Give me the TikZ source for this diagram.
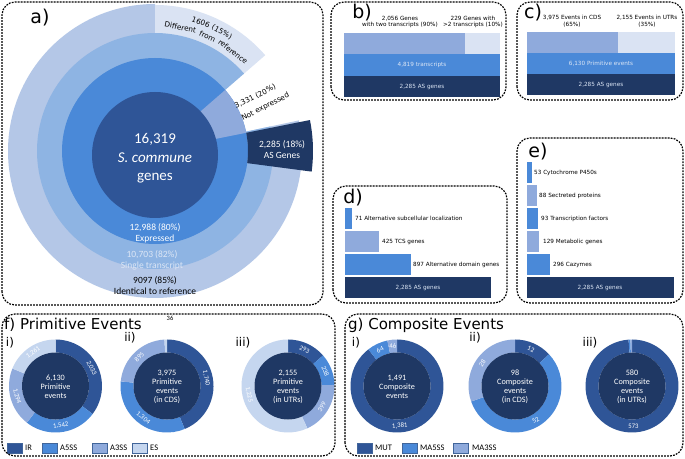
\documentclass[tikz,border=0pt]{standalone}
\usepackage{fontspec}
\setmainfont{Carlito}
\newfontfamily\dv{DejaVu Sans}
\usetikzlibrary{calc}
\definecolor{cNavy}{HTML}{1F3864}
\definecolor{cDark}{HTML}{2F5597}
\definecolor{cMid}{HTML}{4A89D8}
\definecolor{cGrey}{HTML}{8FAADC}
\definecolor{cRthree}{HTML}{8EB4E3}
\definecolor{cOut}{HTML}{B4C7E7}
\definecolor{cLight}{HTML}{DAE3F3}
\definecolor{cES}{HTML}{C5D6EF}
\definecolor{cLeg}{HTML}{41659A}
\definecolor{cPale}{HTML}{DCE6F5}
\newcommand\annsec[6]{\fill[#6,shift={#1}] (#4:#3) arc[start angle=#4,end angle=#5,radius=#3] -- (#5:#2) arc[start angle=#5,end angle=#4,radius=#2] -- cycle;}
\newcommand\piesec[5]{\fill[#5,shift={#1}] (0,0) -- (#3:#2) arc[start angle=#3,end angle=#4,radius=#2] -- cycle;}
\begin{document}
\begin{tikzpicture}[x=1pt,y=1pt,
 panel/.style={draw=black, line width=1.2pt, dash pattern=on 1.8pt off 1.2pt, rounded corners=13pt},
 plab/.style={font=\dv\fontsize{19}{21}\selectfont, inner sep=0},
 ttl/.style={font=\dv\fontsize{15}{17}\selectfont, inner sep=0, anchor=west},
 sublab/.style={font=\dv\fontsize{12}{14}\selectfont, inner sep=0},
 small/.style={font=\dv\fontsize{5.7}{6.6}\selectfont, inner sep=0, align=center},
 barlab/.style={font=\dv\fontsize{5.7}{6.6}\selectfont, inner sep=0, anchor=west},
 inbar/.style={font=\dv\fontsize{5.7}{6.6}\selectfont, inner sep=0, text=cPale},
 ctext/.style={font=\fontsize{8.2}{9}\selectfont, align=center, text=white, inner sep=0},
 rl/.style={font=\fontsize{6.8}{8}\selectfont, text=white, inner sep=0},
 leg/.style={font=\fontsize{8.5}{9}\selectfont, inner sep=0, anchor=west},
 legbox/.style={line width=0.5pt, draw=cLeg},
 alab/.style={font=\fontsize{9.5}{11}\selectfont, align=center, inner sep=0},
 big/.style={font=\fontsize{15}{16}\selectfont, text=white, inner sep=0, anchor=base},
 arcw/.style={font=\dv\fontsize{7.3}{8}\selectfont, inner sep=0, anchor=base},
]
\useasboundingbox (0,0) rectangle (685,458);
\fill[white] (0,0) rectangle (685,458);

% ---------------- panel a
\piesec{(155,307)}{147}{90}{372}{cOut}
\annsec{(155,307)}{117}{146}{41}{90}{cLight}
\piesec{(155,307)}{118}{41}{372}{cRthree}
\fill[cMid] (155,307) circle[radius=93];
\piesec{(155,307)}{93}{11.3}{41}{cGrey}
\annsec{(155,307)}{93}{158}{-7.5}{11.3}{cNavy}
\fill[cDark] (155,303) circle[radius=63];

\node[plab] (alab) at (40,440) {a)};
\node[big] (a1) at (155,314.5) {16,319};
\node[big, font=\fontsize{15}{16}\selectfont\itshape] (a2) at (155,295) {S. commune};
\node[big] (a3) at (155,277) {genes};
\node[alab, text=white] (a4) at (155,224.5) {12,988 (80\%)\\Expressed};
\node[alab, text=cPale] (a5) at (152,198) {10,703 (82\%)\\Single transcript};
\node[alab] (a6) at (155,172) {9097 (85\%)\\Identical to reference};
\node[alab, text=white] (a7) at (282,308.5) {2,285 (18\%)\\AS Genes};
\node[anchor=west, rotate=27, inner sep=0, font=\dv\fontsize{7.3}{8}\selectfont] (a8) at (235,351) {3,331 (20\%)};
\node[anchor=west, rotate=27, inner sep=0, font=\dv\fontsize{7.3}{8}\selectfont] (a9) at (242,339) {Not expressed};
% curved labels, word by word
\node[arcw, rotate=-19.6] (a10) at ($(155,307)+(70.4:134)$) {1606};
\node[arcw, rotate=-29.4] (a11) at ($(155,307)+(60.6:134)$) {(15\%)};
\node[arcw, rotate=-11.6] (a12) at ($(155,307)+(78.4:123.5)$) {Different};
\node[arcw, rotate=-24.6] (a13) at ($(155,307)+(65.4:123.5)$) {from};
\node[arcw, rotate=-38.2] (a14) at ($(155,307)+(51.8:123.5)$) {reference};

% ---------------- panel b
\node[plab] (blab) at (362,445) {b)};
\node[small] (b1) at (400,436) {2,056 Genes\\with two transcripts (90\%)};
\node[small] (b2) at (473,436) {229 Genes with\\>2 transcripts (10\%)};
\fill[cGrey] (344,404) rectangle (465,425);
\fill[cLight] (465,404) rectangle (500,425);
\fill[cMid] (344,382) rectangle (500,404);
\fill[cNavy] (344,361) rectangle (500,382);
\node[inbar] (b3) at (422,393) {4,819 transcripts};
\node[inbar] (b4) at (422,371.5) {2,285 AS genes};

% ---------------- panel c
\node[plab] (clab) at (533,445) {c)};
\node[small] (c1) at (572,437) {3,975 Events in CDS\\(65\%)};
\node[small] (c2) at (647,437) {2,155 Events in UTRs\\(35\%)};
\fill[cGrey] (527,405) rectangle (618,426);
\fill[cLight] (618,405) rectangle (675,426);
\fill[cMid] (527,384) rectangle (675,405);
\fill[cNavy] (527,363) rectangle (675,384);
\node[inbar] (c3) at (601,394.5) {6,130 Primitive events};
\node[inbar] (c4) at (601,373.5) {2,285 AS genes};

% ---------------- panel d
\node[plab] (dlab) at (353,260) {d)};
\fill[cMid] (345,229) rectangle (352,250);
\node[barlab] (d1) at (355,239.5) {71 Alternative subcellular localization};
\fill[cGrey] (345,206) rectangle (379,227);
\node[barlab] (d2) at (382,216.5) {425 TCS genes};
\fill[cMid] (345,183) rectangle (411,204);
\node[barlab] (d3) at (413,193.5) {897 Alternative domain genes};
\fill[cNavy] (345,160) rectangle (491,181);
\node[inbar] (d4) at (418,170.5) {2,285 AS genes};

% ---------------- panel e
\node[plab] (elab) at (538,306) {e)};
\fill[cMid] (527,275) rectangle (532,296);
\node[barlab] (e1) at (534,285.5) {53 Cytochrome P450s};
\fill[cGrey] (527,252) rectangle (537,273);
\node[barlab] (e2) at (539,262.5) {88 Sectreted proteins};
\fill[cMid] (527,229) rectangle (538,250);
\node[barlab] (e3) at (541,239.5) {93 Transcription factors};
\fill[cGrey] (527,206) rectangle (539,227);
\node[barlab] (e4) at (543,216.5) {129 Metabolic genes};
\fill[cMid] (527,183) rectangle (550,204);
\node[barlab] (e5) at (553,193.5) {296 Cazymes};
\fill[cNavy] (527,160) rectangle (674,181);
\node[inbar] (e6) at (600,170.5) {2,285 AS genes};

% ---------------- panel f
\node[ttl] (ft) at (4,133) {f) Primitive Events};
\node[sublab] (fs1) at (10,115) {i)};
\node[sublab] (fs2) at (130,120) {ii)};
\node[sublab] (fs3) at (243,115) {iii)};
% f i
\annsec{(55.5,72)}{33.5}{46.5}{-37}{90}{cDark}
\annsec{(55.5,72)}{33.5}{46.5}{-128}{-37}{cMid}
\annsec{(55.5,72)}{33.5}{46.5}{-202}{-128}{cGrey}
\annsec{(55.5,72)}{33.5}{46.5}{-270}{-202}{cES}
\fill[cNavy] (55.5,72) circle[radius=33.5];
\node[ctext] (fi0) at (55.5,71.5) {6,130\\Primitive\\events};
\node[rl, rotate=-63.5] (fi1) at ($(55.5,72)+(26.5:40)$) {2,033};
\node[rl, rotate=7.5] (fi2) at ($(55.5,72)+(-82.5:40)$) {1,542};
\node[rl, rotate=-75] (fi3) at ($(55.5,72)+(-165:40)$) {1,294};
\node[rl, rotate=34] (fi4) at ($(55.5,72)+(-236:40)$) {1,261};
% f ii
\annsec{(167,72)}{33.5}{46.5}{-67.6}{90}{cDark}
\annsec{(167,72)}{33.5}{46.5}{-185.7}{-67.6}{cMid}
\annsec{(167,72)}{33.5}{46.5}{-266.8}{-185.7}{cGrey}
\annsec{(167,72)}{33.5}{46.5}{-270}{-266.8}{cES}
\fill[cNavy] (167,72) circle[radius=33.5];
\node[ctext] (fii0) at (167,71.5) {3,975\\Primitive\\events\\(in CDS)};
\node[rl, rotate=-78.8] (fii1) at ($(167,72)+(11.2:40)$) {1,740};
\node[rl, rotate=-36.65] (fii2) at ($(167,72)+(-126.65:40)$) {1,304};
\node[rl, rotate=43.75] (fii3) at ($(167,72)+(-226.25:40)$) {895};
\node[inner sep=0, font=\fontsize{6.5}{7}\selectfont] (fii4) at (170,139.5) {36};
% f iii
\annsec{(288,72)}{33.5}{46.5}{41.1}{90}{cDark}
\annsec{(288,72)}{33.5}{46.5}{1.3}{41.1}{cMid}
\annsec{(288,72)}{33.5}{46.5}{-65.4}{1.3}{cGrey}
\annsec{(288,72)}{33.5}{46.5}{-270}{-65.4}{cES}
\fill[cNavy] (288,72) circle[radius=33.5];
\node[ctext] (fiii0) at (288,71.5) {2,155\\Primitive\\events\\(in UTRs)};
\node[rl, rotate=-24.45] (fiii1) at ($(288,72)+(65.55:40)$) {293};
\node[rl, rotate=-68.8] (fiii2) at ($(288,72)+(21.2:40)$) {238};
\node[rl, rotate=57.95] (fiii3) at ($(288,72)+(-32.05:40)$) {399};
\node[rl, rotate=-77.7] (fiii4) at ($(288,72)+(-167.7:40)$) {1,225};
% f legend
\draw[legbox, fill=cDark] (7,5) rectangle (22,15);
\node[leg] (lf1) at (25,10) {IR};
\draw[legbox, fill=cMid] (42,5) rectangle (57,15);
\node[leg] (lf2) at (60,10) {A5SS};
\draw[legbox, fill=cGrey] (92,5) rectangle (107,15);
\node[leg] (lf3) at (110,10) {A3SS};
\draw[legbox, fill=cES] (132,5) rectangle (147,15);
\node[leg] (lf4) at (150,10) {ES};

% ---------------- panel g
\node[ttl] (gt) at (348,133) {g) Composite Events};
\node[sublab] (gs1) at (356,115) {i)};
\node[sublab] (gs2) at (475,120) {ii)};
\node[sublab] (gs3) at (590,115) {iii)};
% g i
\annsec{(397,72)}{33.5}{46.5}{-232}{90}{cDark}
\annsec{(397,72)}{33.5}{46.5}{-258}{-232}{cMid}
\annsec{(397,72)}{33.5}{46.5}{-270}{-258}{cGrey}
\fill[cNavy] (397,72) circle[radius=33.5];
\node[ctext] (gi0) at (397,71.5) {1,491\\Composite\\events};
\node[rl, rotate=4] (gi1) at ($(397,72)+(-86:40)$) {1,381};
\node[rl, rotate=25] (gi2) at ($(397,72)+(115:40)$) {64};
\node[rl, rotate=6] (gi3) at ($(397,72)+(96:40)$) {46};
% g ii
\annsec{(515,72)}{33.5}{46.5}{43}{90}{cDark}
\annsec{(515,72)}{33.5}{46.5}{-160.5}{43}{cMid}
\annsec{(515,72)}{33.5}{46.5}{-270}{-160.5}{cGrey}
\fill[cNavy] (515,72) circle[radius=33.5];
\node[ctext] (gii0) at (515,71.5) {98\\Composite\\events\\(in CDS)};
\node[rl, rotate=-23.5] (gii1) at ($(515,72)+(66.5:40)$) {12};
\node[rl, rotate=31.25] (gii2) at ($(515,72)+(-58.75:40)$) {52};
\node[rl, rotate=54.75] (gii3) at ($(515,72)+(-215.25:40)$) {28};
% g iii
\annsec{(632,72)}{33.5}{46.5}{-265.7}{90}{cDark}
\annsec{(632,72)}{33.5}{46.5}{-268}{-265.7}{cMid}
\annsec{(632,72)}{33.5}{46.5}{-270}{-268}{cGrey}
\fill[cNavy] (632,72) circle[radius=33.5];
\node[ctext] (giii0) at (632,71.5) {580\\Composite\\events\\(in UTRs)};
\node[rl, rotate=2] (giii1) at ($(632,72)+(-88:40)$) {573};
% g legend
\draw[legbox, fill=cDark] (357,5) rectangle (372,15);
\node[leg] (lg1) at (375,10) {MUT};
\draw[legbox, fill=cMid] (402,5) rectangle (417,15);
\node[leg] (lg2) at (420,10) {MA5SS};
\draw[legbox, fill=cGrey] (453,5) rectangle (468,15);
\node[leg] (lg3) at (472,10) {MA3SS};

% ---------------- frames
\draw[panel] (2,153) rectangle (323,456);
\draw[panel] (331,358) rectangle (506,456);
\draw[panel] (517,358) rectangle (683,456);
\draw[panel] (333,155) rectangle (507,272);
\draw[panel] (517,155) rectangle (683,320);
\draw[panel] (2,2) rectangle (335,144);
\draw[panel] (345,2) rectangle (683,144);
\end{tikzpicture}
\end{document}
